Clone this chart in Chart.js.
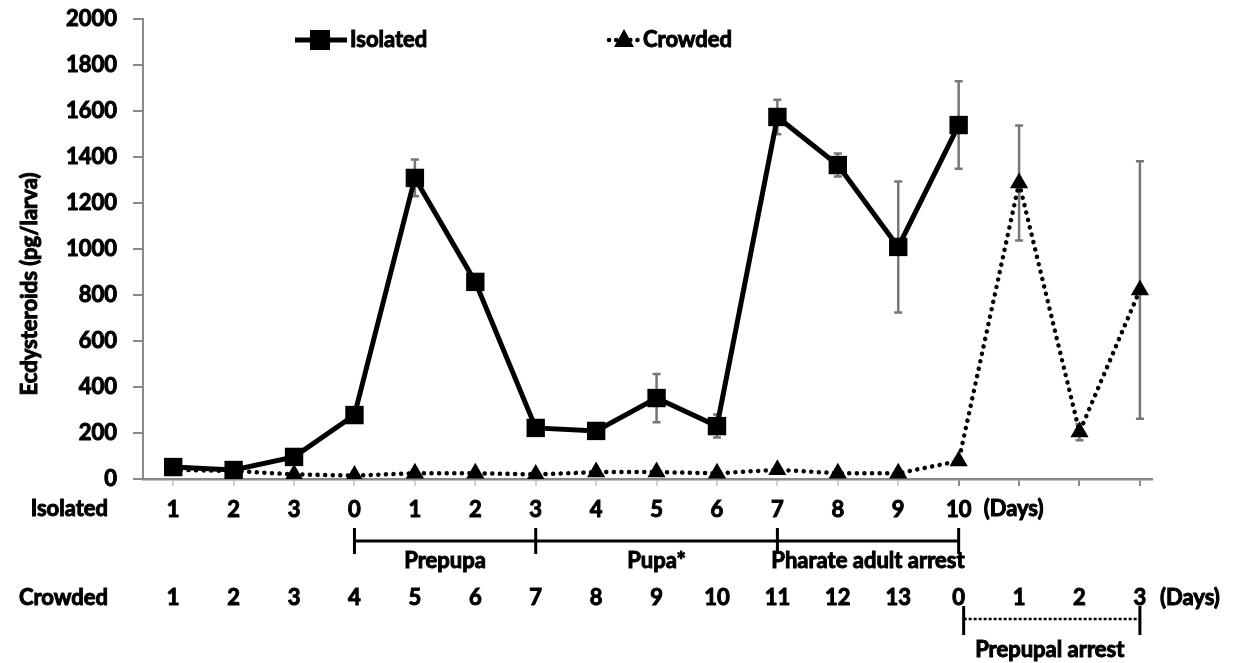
<!DOCTYPE html>
<html>
<head>
<meta charset="utf-8">
<script src="https://cdn.jsdelivr.net/npm/chart.js@4.4.1/dist/chart.umd.min.js"></script>
<style>
  html, body { margin: 0; padding: 0; background: #fff; }
</style>
</head>
<body>
<canvas id="chart" width="1233" height="663"></canvas>
<script>
// Datos (índice = posición en el eje X)
const isolatedDays = ["1", "2", "3", "0", "1", "2", "3", "4", "5", "6", "7", "8", "9", "10"];
const crowdedDays = ["1", "2", "3", "4", "5", "6", "7", "8", "9", "10", "11", "12", "13", "0", "1", "2", "3"];
const isolatedValues = [52, 39, 96, 278, 1309, 857, 222, 209, 352, 230, 1574, 1365, 1009, 1539];
const isolatedErrors = [15, 10, 15, 20, 80, 20, 15, 15, 105, 50, 75, 50, 285, 190];
const crowdedValues = [40, 35, 20, 15, 25, 25, 20, 30, 30, 25, 40, 25, 25, 78, 1287, 204, 822];
const crowdedErrors = [0, 0, 0, 0, 0, 0, 0, 0, 0, 0, 0, 0, 0, 10, 250, 35, 560];
const yTicks = [0, 200, 400, 600, 800, 1000, 1200, 1400, 1600, 1800, 2000];

// Etapas de desarrollo (de un índice a otro)
const isolatedStages = [["Prepupa", 3, 6], ["Pupa*", 6, 10], ["Pharate adult arrest", 10, 13]];
const crowdedStages = [["Prepupal arrest", 13, 16]];

const FONT = 'Lato, "Liberation Sans", sans-serif';
const FONT_SIZE = 22;
const AXIS_GREY = "#8a8a8a";

// Texto en negrita "gruesa" (relleno + trazo fino)
function heavyText(ctx, txt, x, y) {
    ctx.fillText(txt, x, y);
    ctx.strokeText(txt, x, y);
}

// Barras de error (dibujadas debajo de las líneas)
const errorBars = {
    id: "errorBars",
    beforeDatasetsDraw(chart) {
        const ctx = chart.ctx;
        const y = chart.scales.y;
        [isolatedErrors, crowdedErrors].forEach((errs, d) => {
            const meta = chart.getDatasetMeta(d);
            const vals = d == 0 ? isolatedValues : crowdedValues;
            meta.data.forEach((pt, i) => {
                if (!errs[i]) return;
                const top = y.getPixelForValue(vals[i] + errs[i]);
                const bot = y.getPixelForValue(vals[i] - errs[i]);
                ctx.save();
                ctx.strokeStyle = "#777";
                ctx.lineWidth = 2.5;
                ctx.beginPath();
                ctx.moveTo(pt.x, top); ctx.lineTo(pt.x, bot);
                ctx.moveTo(pt.x - 4, top); ctx.lineTo(pt.x + 4, top);
                ctx.moveTo(pt.x - 4, bot); ctx.lineTo(pt.x + 4, bot);
                ctx.stroke();
                ctx.restore();
            });
        });
    }
};

// Leyenda, filas de días y etapas
const annotations = {
    id: "annotations",
    afterDraw(chart) {
        const ctx = chart.ctx;
        const x = chart.scales.x;
        ctx.save();
        ctx.fillStyle = "#000";
        ctx.strokeStyle = "#000";
        ctx.font = "bold " + FONT_SIZE + "px " + FONT;
        ctx.textBaseline = "middle";

        // leyenda
        const ly = 40;
        ctx.lineWidth = 5;
        ctx.beginPath(); ctx.moveTo(295, ly); ctx.lineTo(347, ly); ctx.stroke();
        ctx.fillRect(310, ly - 10, 20, 20);
        ctx.textAlign = "left";
        ctx.lineWidth = 1;
        heavyText(ctx, "Isolated", 350, ly);
        ctx.setLineDash([0.1, 7]);
        ctx.lineCap = "round";
        ctx.lineWidth = 4.5;
        ctx.beginPath(); ctx.moveTo(609, ly); ctx.lineTo(640, ly); ctx.stroke();
        ctx.setLineDash([]);
        ctx.lineCap = "butt";
        ctx.beginPath();
        ctx.moveTo(624, ly - 11); ctx.lineTo(634, ly + 7); ctx.lineTo(614, ly + 7);
        ctx.closePath(); ctx.fill();
        ctx.lineWidth = 1;
        heavyText(ctx, "Crowded", 643, ly);

        // etiquetas de filas
        ctx.textAlign = "right";
        heavyText(ctx, "Isolated", 108, 509);
        heavyText(ctx, "Crowded", 108, 598);
        ctx.textAlign = "left";
        heavyText(ctx, "(Days)", x.getPixelForValue(13) + 25, 509);
        heavyText(ctx, "(Days)", x.getPixelForValue(16) + 20, 598);

        // días de los aislados salen en el eje; los agrupados aquí
        ctx.textAlign = "center";
        crowdedDays.forEach((d, i) => heavyText(ctx, d, x.getPixelForValue(i), 598));

        // corchete de etapas (aislados)
        ctx.lineWidth = 3;
        const by = 541;
        ctx.beginPath();
        ctx.moveTo(x.getPixelForValue(isolatedStages[0][1]), by);
        ctx.lineTo(x.getPixelForValue(isolatedStages[isolatedStages.length - 1][2]), by);
        isolatedStages.forEach(s => {
            [s[1], s[2]].forEach(v => {
                const px = x.getPixelForValue(v);
                ctx.moveTo(px, by - 13); ctx.lineTo(px, by + 13);
            });
        });
        ctx.stroke();
        ctx.lineWidth = 1;
        isolatedStages.forEach(s => {
            heavyText(ctx, s[0], (x.getPixelForValue(s[1]) + x.getPixelForValue(s[2])) / 2, 561);
        });

        // corchete punteado (agrupados)
        const cy = 619;
        crowdedStages.forEach(s => {
            const a = x.getPixelForValue(s[1]) + 5, b = x.getPixelForValue(s[2]);
            ctx.lineWidth = 3;
            ctx.beginPath();
            ctx.moveTo(a, cy - 13); ctx.lineTo(a, cy + 16);
            ctx.moveTo(b, cy - 13); ctx.lineTo(b, cy + 16);
            ctx.stroke();
            ctx.lineWidth = 2.5;
            ctx.setLineDash([3, 2]);
            ctx.beginPath(); ctx.moveTo(a, cy); ctx.lineTo(b, cy); ctx.stroke();
            ctx.setLineDash([]);
            ctx.lineWidth = 1;
            heavyText(ctx, s[0], (a + b) / 2 - 2, 650);
        });

        // título del eje Y
        ctx.translate(30, 284);
        ctx.rotate(-Math.PI / 2);
        heavyText(ctx, "Ecdysteroids (pg/larva)", 0, 0);
        ctx.restore();
    }
};

const tickFont = { family: FONT, size: FONT_SIZE, weight: "bold" };

new Chart(document.getElementById("chart"), {
    type: "line",
    data: {
        datasets: [{
            label: "Isolated",
            data: isolatedValues.map((v, i) => ({ x: i, y: v })),
            borderColor: "#000",
            borderWidth: 5,
            pointStyle: "rect",
            pointRadius: 13,
            pointBackgroundColor: "#000",
            pointBorderWidth: 0,
            tension: 0
        }, {
            label: "Crowded",
            data: crowdedValues.map((v, i) => ({ x: i, y: v })),
            borderColor: "#000",
            borderWidth: 4.5,
            borderDash: [0.1, 7.5],
            borderCapStyle: "round",
            pointStyle: "triangle",
            pointRadius: 10.5,
            pointBackgroundColor: "#000",
            pointBorderWidth: 0,
            tension: 0
        }]
    },
    options: {
        responsive: false,
        animation: false,
        events: [],
        layout: { autoPadding: false, padding: { top: 19, right: 81, left: 0, bottom: 0 } },
        plugins: { legend: { display: false }, tooltip: { enabled: false } },
        scales: {
            x: {
                type: "linear",
                min: -0.5,
                max: 16.2,
                afterBuildTicks: s => { s.ticks = crowdedDays.map((d, i) => ({ value: i })); },
                afterFit: s => { s.height = 184; s.paddingLeft = 0; s.paddingRight = 0; },
                ticks: {
                    callback: v => isolatedDays[v] ?? "",
                    autoSkip: false,
                    maxRotation: 0,
                    padding: 11,
                    color: "#000",
                    textStrokeColor: "#000",
                    textStrokeWidth: 1,
                    font: tickFont
                },
                grid: {
                    drawOnChartArea: false,
                    tickLength: 7,
                    color: c => c.index >= 13 ? AXIS_GREY : "#d0d0d0",
                    lineWidth: 2
                },
                border: { color: AXIS_GREY, width: 2.5 }
            },
            y: {
                min: 0,
                max: 2000,
                afterBuildTicks: s => { s.ticks = yTicks.map(v => ({ value: v })); },
                afterFit: s => { s.width = 143; s.paddingTop = 0; s.paddingBottom = 0; },
                ticks: {
                    callback: v => String(v),
                    padding: 16,
                    color: "#000",
                    textStrokeColor: "#000",
                    textStrokeWidth: 1,
                    font: tickFont
                },
                grid: {
                    drawOnChartArea: false,
                    tickLength: 10,
                    color: AXIS_GREY,
                    lineWidth: 2
                },
                border: { color: AXIS_GREY, width: 2 }
            }
        }
    },
    plugins: [errorBars, annotations]
});
</script>
</body>
</html>
